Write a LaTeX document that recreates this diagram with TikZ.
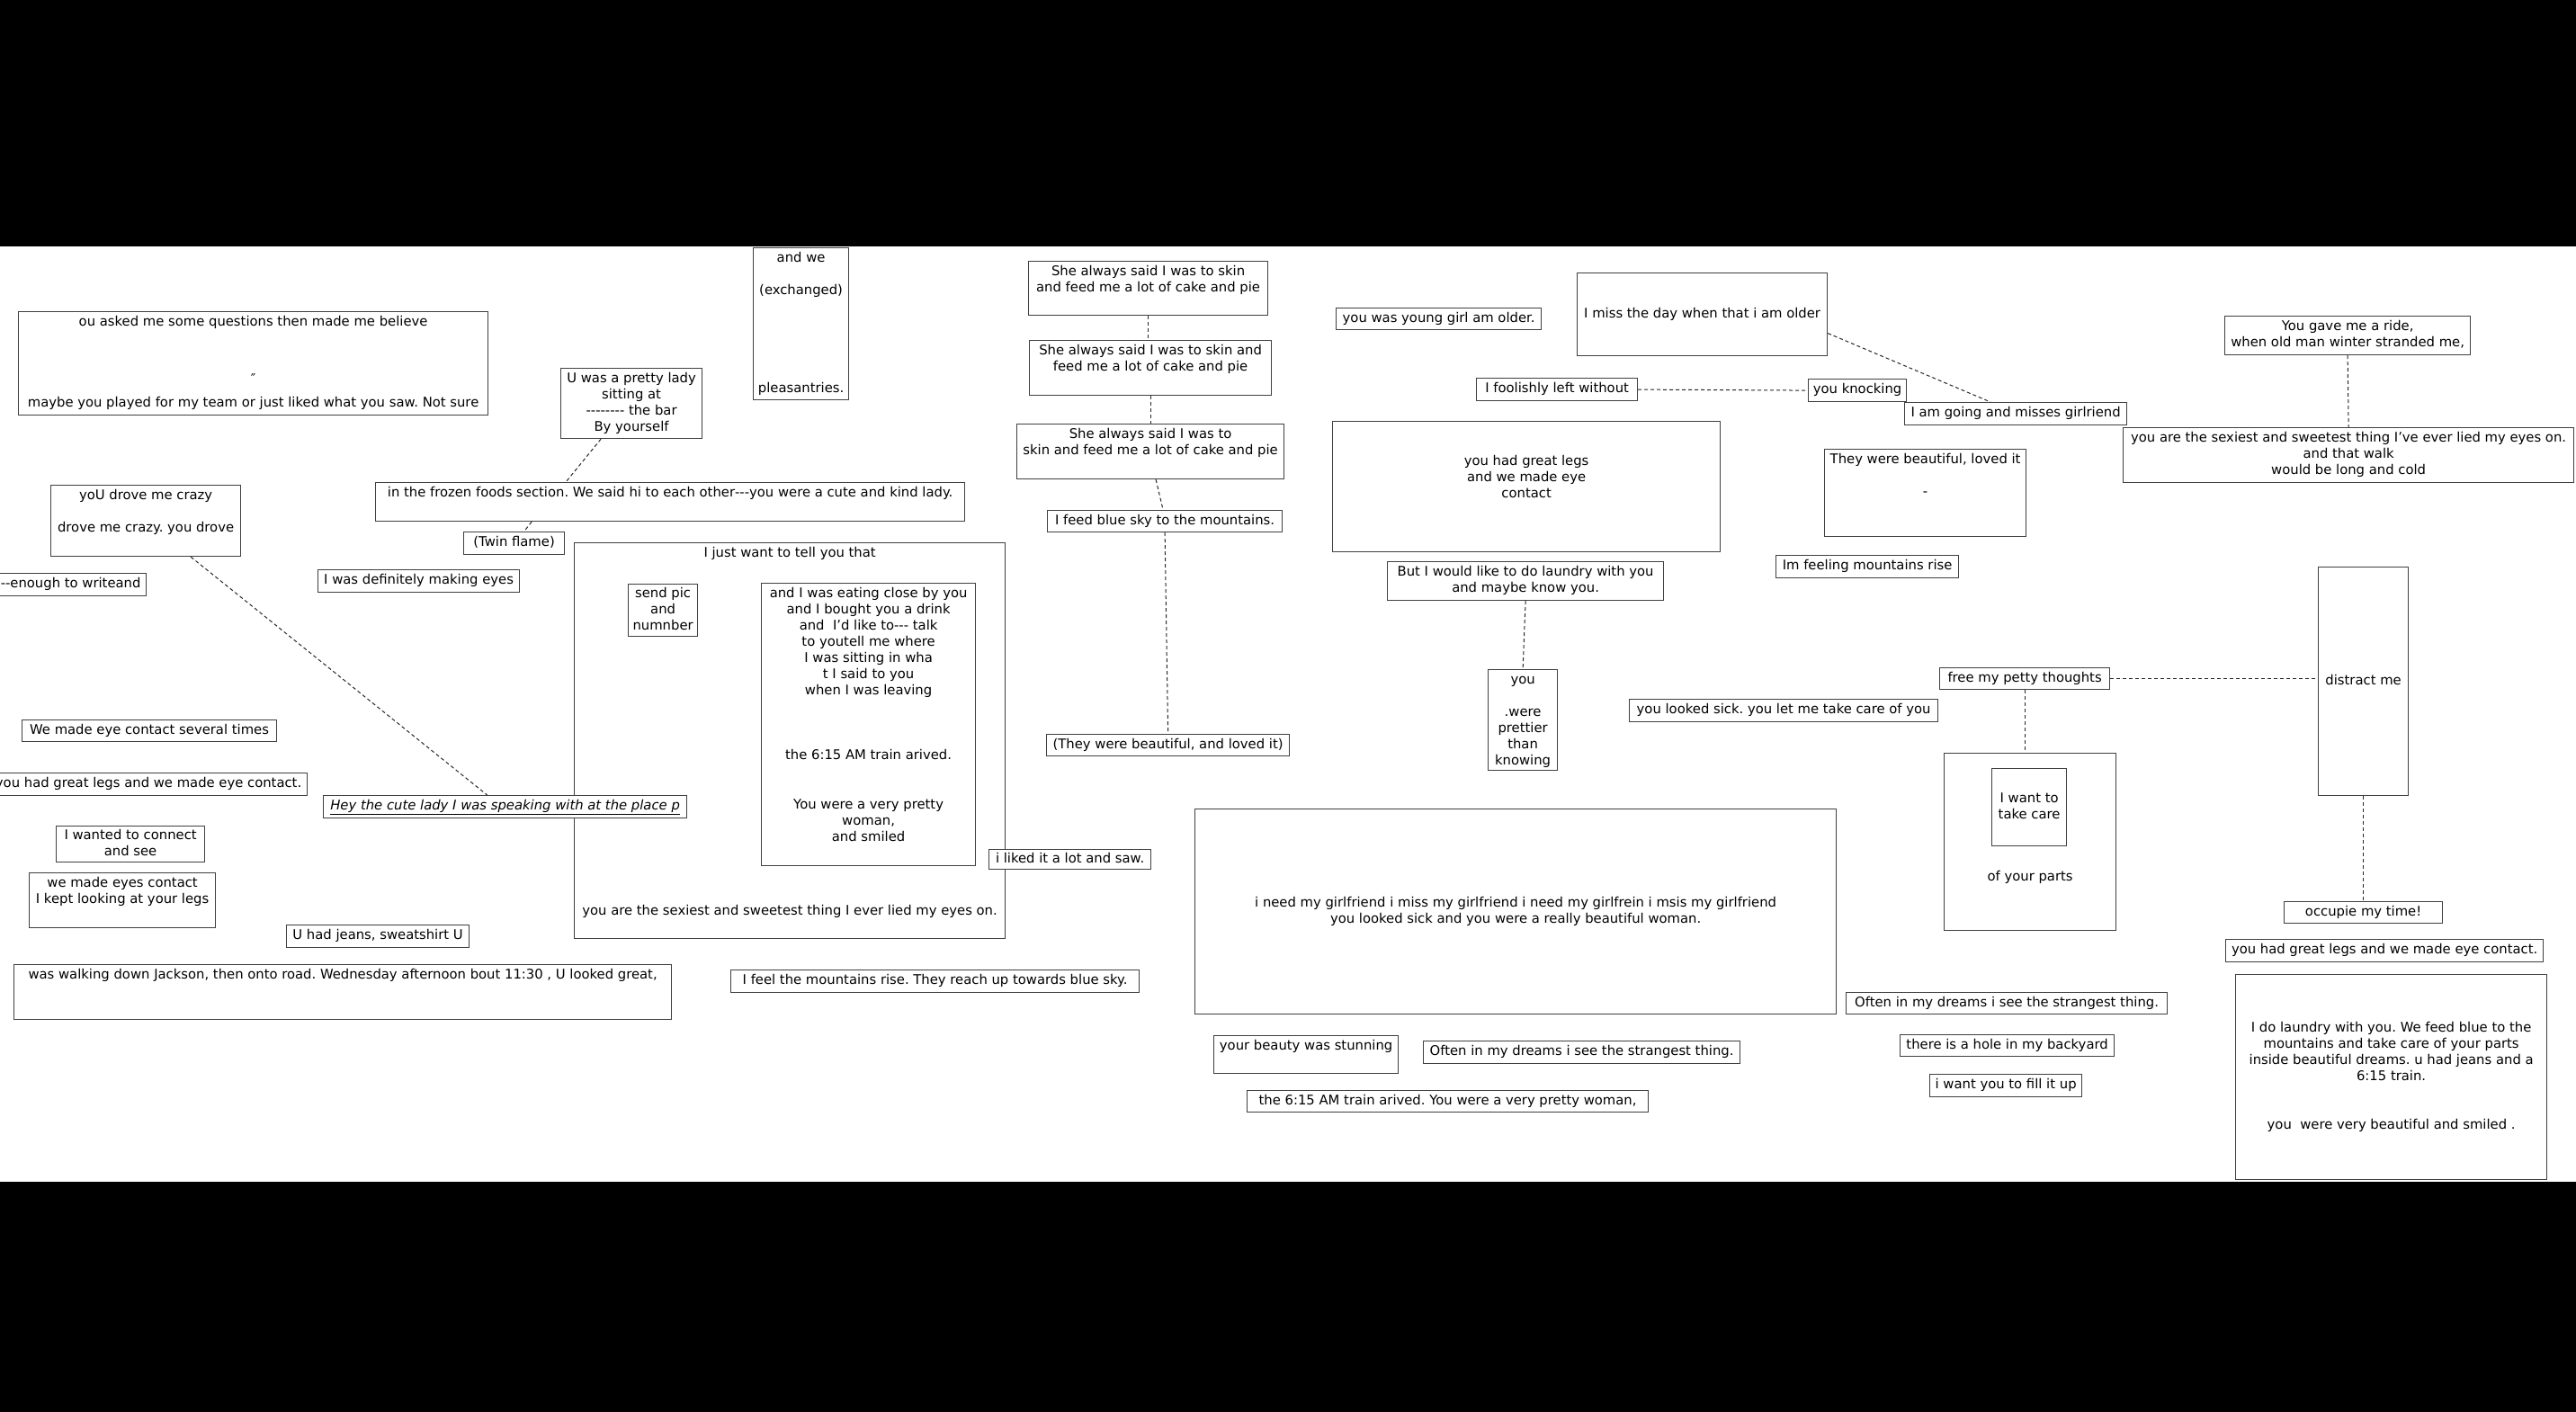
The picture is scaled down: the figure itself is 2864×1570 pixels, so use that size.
\documentclass[tikz,border=0pt]{standalone}
\usepackage{fontspec}
\setmainfont{DejaVu Sans}
\frenchspacing
\newcommand{\hy}{\mbox{-}}
\newcommand{\pane}[4][c]{\parbox[c][\dimexpr#3pt-6pt\relax][#1]{\dimexpr#2pt-6pt\relax}{\centering\makebox[0pt]{\begin{tabular}[t]{@{}c@{}}#4\end{tabular}}}}
\tikzset{
  note/.style={draw=black!75, line width=1.2pt, fill=white, inner sep=3pt, anchor=north west, font=\fontsize{14.8}{18}\selectfont},
  link/.style={draw=black!85, line width=1pt, dash pattern=on 4pt off 3pt}
}
\begin{document}
\begin{tikzpicture}[x=1pt,y=-1pt]
    \useasboundingbox (0,0) rectangle (2864,1570);
    \clip (0,0) rectangle (2864,1570);
    \fill[black] (0,0) rectangle (2864,274);
    \fill[white] (0,274) rectangle (2864,1314);
    \fill[black] (0,1314) rectangle (2864,1570);

    % left part
    \node[note] (ask) at (20,346) {\pane[t]{522}{115}{ou asked me some questions then made me believe\\[46pt] ″\\[8pt] maybe you played for my team or just liked what you saw. Not sure}};
    \node[note] (lady) at (623,409) {\pane[t]{157}{78}{U was a pretty lady\\ sitting at\\ \hy\hy\hy\hy\hy\hy\hy\hy{} the bar\\ By yourself}};
    \node[note] (pleas) at (837,275) {\pane[t]{106}{169}{and we\\[18pt] (exchanged)\\[91pt] pleasantries.}};
    \node[note] (frozen) at (417,536) {\pane[t]{655}{43}{in the frozen foods section. We said hi to each other\hy\hy\hy you were a cute and kind lady.}};
    \node[note] (crazy) at (56,539) {\pane[t]{211}{79}{yoU drove me crazy\\[18pt] drove me crazy. you drove}};
    \node[note] (twin) at (515,591) {\pane{112}{25}{(Twin flame)}};
    \node[note] (enough) at (-6,637) {\pane{168}{25}{\hy\hy enough to writeand}};
    \node[note] (eyes) at (353,633) {\pane{224}{25}{I was definitely making eyes}};
    \node[note] (contact) at (24,800) {\pane{283}{24}{We made eye contact several times}};
    \node[note] (legsL) at (-12,859) {\pane{353}{25}{you had great legs and we made eye contact.}};
    \node[note] (connect) at (62,918) {\pane{165}{40}{I wanted to connect\\ and see}};
    \node[note] (looking) at (32,970) {\pane[t]{207}{61}{we made eyes contact\\ I kept looking at your legs}};
    \node[note] (jeans) at (318,1028) {\pane{203}{25}{U had jeans, sweatshirt U}};
    \node[note] (walking) at (15,1072) {\pane[t]{731}{61}{was walking down Jackson, then onto road. Wednesday afternoon bout 11:30 , U looked great,}};

    % middle part
    \node[note] (tell) at (638,603) {\pane[t]{479}{440}{I just want to tell you that\\[380pt] you are the sexiest and sweetest thing I ever lied my eyes on.}};
    \node[note] (pic) at (698,649) {\pane{77}{58}{send pic\\ and\\ numnber}};
    \node[note] (eating) at (846,648) {\pane[t]{238}{314}{and I was eating close by you\\ and I bought you a drink\\ and~~I’d like to\hy\hy\hy{} talk\\ to youtell me where\\ I was sitting in wha\\ t I said to you\\ when I was leaving\\[54pt] the 6:15 AM train arived.\\[37pt] You were a very pretty\\ woman,\\ and smiled}};
    \node[note] (hey) at (359,884) {\pane{404}{25}{\underline{\itshape Hey the cute lady I was speaking with at the place p}}};
    \node[note] (liked) at (1099,944) {\pane{180}{22}{i liked it a lot and saw.}};
    \node[note] (rise) at (812,1078) {\pane{454}{25}{I feel the mountains rise. They reach up towards blue sky.}};
    \node[note] (she1) at (1143,290) {\pane[t]{266}{60}{She always said I was to skin\\ and feed me a lot of cake and pie}};
    \node[note] (she2) at (1144,378) {\pane[t]{269}{61}{She always said I was to skin and\\ feed me a lot of cake and pie}};
    \node[note] (she3) at (1130,471) {\pane[t]{297}{61}{She always said I was to\\ skin and feed me a lot of cake and pie}};
    \node[note] (feed) at (1164,567) {\pane{261}{24}{I feed blue sky to the mountains.}};
    \node[note] (they) at (1163,816) {\pane{270}{24}{(They were beautiful, and loved it)}};

    % right part
    \node[note] (young) at (1485,342) {\pane{228}{24}{you was young girl am older.}};
    \node[note] (older) at (1753,303) {\pane{278}{92}{I miss the day when that i am older}};
    \node[note] (foolish) at (1641,420) {\pane{179}{25}{I foolishly left without}};
    \node[note] (knock) at (2010,421) {\pane{109}{25}{you knocking}};
    \node[note] (going) at (2117,447) {\pane{247}{25}{I am going and misses girlriend}};
    \node[note] (legs) at (1481,468) {\pane{431}{145}{you had great legs\\ and we made eye\\ contact\\ ~}};
    \node[note] (beaut) at (2028,499) {\pane[t]{224}{97}{They were beautiful, loved it\\[18pt] -}};
    \node[note] (laundry) at (1542,624) {\pane{307}{43}{But I would like to do laundry with you\\ and maybe know you.}};
    \node[note] (mtn) at (1974,617) {\pane{203}{25}{Im feeling mountains rise}};
    \node[note] (pretty) at (1654,744) {\pane[t]{77}{112}{you\\[18pt] .were\\ prettier\\ than\\ knowing}};
    \node[note] (sick) at (1811,777) {\pane{343}{25}{you looked sick. you let me take care of you}};
    \node[note] (petty) at (2156,742) {\pane{189}{24}{free my petty thoughts}};
    \node[note] (distract) at (2577,630) {\pane{100}{254}{distract me}};
    \node[note] (parts) at (2161,837) {\pane[t]{191}{197}{\mbox{}\\[108pt] of your parts}};
    \node[note] (care) at (2214,854) {\pane{83}{86}{I want to\\ take care}};
    \node[note] (ride) at (2473,351) {\pane{273}{43}{You gave me a ride,\\ when old man winter stranded me,}};
    \node[note] (sexy) at (2360,475) {\pane{501}{61}{you are the sexiest and sweetest thing I've ever lied my eyes on.\\ and that walk\\ would be long and cold}};
    \node[note] (occupy) at (2539,1002) {\pane{176}{24}{occupie my time!}};
    \node[note] (legsR) at (2474,1044) {\pane{353}{25}{you had great legs and we made eye contact.}};
    \node[note] (chores) at (2485,1083) {\pane{346}{228}{I do laundry with you. We feed blue to the\\ mountains and take care of your parts\\ inside beautiful dreams. u had jeans and a\\ 6:15 train.\\[36pt] you~~were very beautiful and smiled .}};
    \node[note] (girl) at (1328,899) {\pane{713}{228}{i need my girlfriend i miss my girlfriend i need my girlfrein i msis my girlfriend\\ you looked sick and you were a really beautiful woman.}};
    \node[note] (often1) at (2052,1103) {\pane{357}{24}{Often in my dreams i see the strangest thing.}};
    \node[note] (hole) at (2112,1150) {\pane{238}{24}{there is a hole in my backyard}};
    \node[note] (fill) at (2145,1194) {\pane{169}{25}{i want you to fill it up}};
    \node[note] (stun) at (1349,1151) {\pane[t]{205}{42}{your beauty was stunning}};
    \node[note] (often2) at (1582,1157) {\pane{352}{25}{Often in my dreams i see the strangest thing.}};
    \node[note] (train) at (1386,1212) {\pane{446}{24}{the 6:15 AM train arived. You were a very pretty woman,}};

    % dashed connectors
    \draw[link] ([xshift=-34pt]lady.south) -- ([xshift=-116pt]frozen.north);
    \draw[link] ([xshift=-154pt]frozen.south) -- ([xshift=11pt]twin.north);
    \draw[link] ([xshift=50pt]crazy.south) -- ([xshift=-20pt]hey.north);
    \draw[link] (she1.south) -- (she1.south |- she2.north);
    \draw[link] (she2.south) -- (she2.south |- she3.north);
    \draw[link] ([xshift=6pt]she3.south) -- ([xshift=-2pt]feed.north);
    \draw[link] (feed.south) -- (they.north);
    \draw[link] ([yshift=-21pt]older.east) -- ([xshift=-28pt]going.north);
    \draw[link] (foolish.east) -- (knock.west);
    \draw[link] (ride.south) -- (sexy.north);
    \draw[link] (laundry.south) -- (pretty.north);
    \draw[link] (petty.east) -- (petty.east -| distract.west);
    \draw[link] (petty.south) -- (petty.south |- parts.north);
    \draw[link] (distract.south) -- (occupy.north);
\end{tikzpicture}
\end{document}
